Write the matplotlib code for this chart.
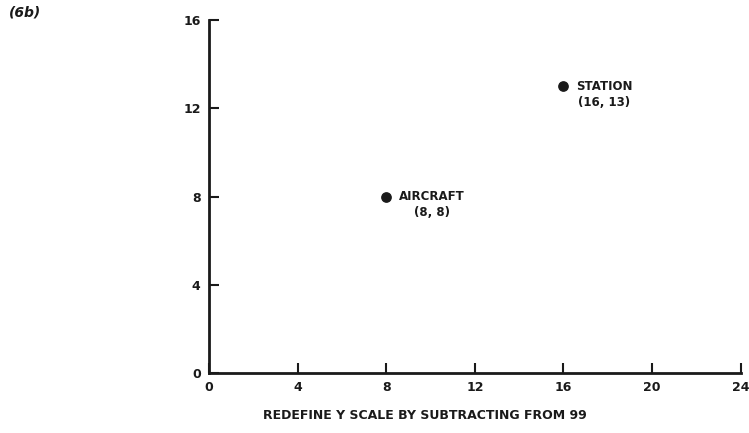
import matplotlib
matplotlib.use("Agg")
import matplotlib.pyplot as plt

# Data
point_names = ["AIRCRAFT", "STATION"]
point_x = [8, 16]
point_y = [8, 13]
point_coords = ["(8, 8)", "(16, 13)"]
x_ticks = [0, 4, 8, 12, 16, 20, 24]
y_ticks = [0, 4, 8, 12, 16]
x_label = "REDEFINE Y SCALE BY SUBTRACTING FROM 99"
panel_label = "(6b)"

fig = plt.figure(figsize=(7.49, 4.33), dpi=100)
ax = fig.add_axes([0.279, 0.1386, 0.71, 0.815])

ink = "#1a1a1a"
ax.scatter(point_x, point_y, s=45, color=ink, zorder=3, clip_on=False)
for name, x, y, c in zip(point_names, point_x, point_y, point_coords):
    t = ax.annotate(name, (x, y), xytext=(9, 0), textcoords="offset points",
                    ha="left", va="center", fontsize=8.5, fontweight="bold", color=ink)
    ax.annotate(c, xy=(0.5, 0), xycoords=t, xytext=(0, -7), textcoords="offset points",
                ha="center", va="center", fontsize=8.5, fontweight="bold", color=ink)

ax.set_xlim(0, 24)
ax.set_ylim(0, 16)
ax.set_xticks(x_ticks)
ax.set_yticks(y_ticks)
ax.spines["top"].set_visible(False)
ax.spines["right"].set_visible(False)
for s in ("left", "bottom"):
    ax.spines[s].set_linewidth(2)
    ax.spines[s].set_color(ink)
ax.tick_params(direction="in", length=7, width=1.5, colors=ink, labelsize=9, pad=6)
for lbl in ax.get_xticklabels() + ax.get_yticklabels():
    lbl.set_fontweight("bold")

fig.text(0.567, 0.04, x_label, ha="center", va="center", fontsize=9,
         fontweight="bold", color=ink)
fig.text(0.012, 0.97, panel_label, ha="left", va="center", fontsize=10,
         fontweight="bold", style="italic", color=ink)

fig.savefig("out.png", dpi=100)
